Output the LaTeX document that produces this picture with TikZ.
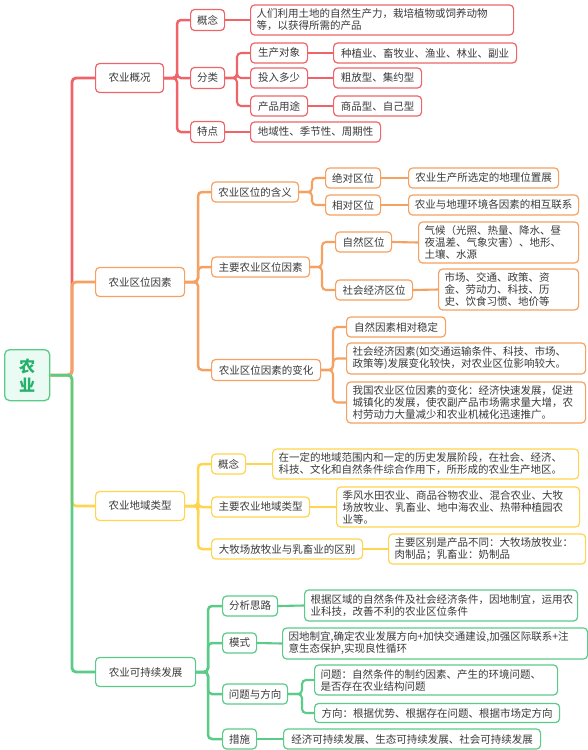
\documentclass[tikz,border=0pt]{standalone}
\usepackage{fontspec}
\setmainfont{Noto Sans CJK SC}
\usetikzlibrary{calc}
\definecolor{cr}{HTML}{EE6469}
\definecolor{co}{HTML}{F5A162}
\definecolor{cy}{HTML}{FFD44E}
\definecolor{cg}{HTML}{5BCB8A}
\definecolor{rootfill}{HTML}{E9FBF3}
\definecolor{roottext}{HTML}{25B06B}
\definecolor{txt}{HTML}{3A3A3A}
\newcommand\fs{\fontsize{10.5}{12}\selectfont}
\tikzset{
  bx/.style={draw=#1, fill=white, rounded corners=4pt, line width=1.2pt, inner sep=0pt,
    anchor=west, font=\fs, text=txt},
  ml/.style={align=left},
  lk/.style={draw=#1, line width=2.5pt, rounded corners=4pt},
  lks/.style={draw=#1, line width=2.1pt, rounded corners=4pt},
}
\begin{document}
\begin{tikzpicture}[x=1pt,y=-1pt]
\useasboundingbox (0,0) rectangle (588,750);
% vertical guide coordinates
\coordinate (t) at (72,0);
\coordinate (vA) at (177,0);
\coordinate (vA2) at (237,0);
\coordinate (vB) at (198,0);
\coordinate (vB1) at (312,0);
\coordinate (vB2) at (322,0);
\coordinate (vB3) at (333,0);
\coordinate (vC) at (198,0);
\coordinate (vD) at (208,0);
\coordinate (vD3) at (302,0);

% root
\node[draw=cg, fill=rootfill, rounded corners=5pt, line width=1.3pt, minimum width=45, minimum height=51,
  anchor=north west, font=\fontsize{16}{19}\selectfont\bfseries, text=roottext, align=center, inner sep=0pt]
  (root) at (4,349) {农\\业};

% level 1
\node[bx=cr, minimum width=68, minimum height=29] (A) at (95,78) {农业概况};
\node[bx=co, minimum width=89, minimum height=29] (B) at (95,282) {农业区位因素};
\node[bx=cy, minimum width=89, minimum height=29] (C) at (95,506) {农业地域类型};
\node[bx=cg, minimum width=100, minimum height=29] (D) at (95,672) {农业可持续发展};

% ---- A (red)
\node[bx=cr, minimum width=34, minimum height=21] (A1) at (190,20) {概念};
\node[bx=cr, minimum width=34, minimum height=21] (A2) at (190,78) {分类};
\node[bx=cr, minimum width=34, minimum height=21] (A3) at (190,132) {特点};
\node[bx=cr, ml, minimum width=263, minimum height=30, text width=251] (A1a) at (250,20)
  {人们利用土地的自然生产力，栽培植物或饲养动物\\等，以获得所需的产品};
\node[bx=cr, minimum width=57, minimum height=20] (A21) at (250,53) {生产对象};
\node[bx=cr, minimum width=57, minimum height=20] (A22) at (250,78) {投入多少};
\node[bx=cr, minimum width=57, minimum height=20] (A23) at (250,106) {产品用途};
\node[bx=cr, minimum width=183, minimum height=20] (A21a) at (333,53) {种植业、畜牧业、渔业、林业、副业};
\node[bx=cr, minimum width=88, minimum height=20] (A22a) at (333,78) {粗放型、集约型};
\node[bx=cr, minimum width=88, minimum height=20] (A23a) at (333,106) {商品型、自己型};
\node[bx=cr, minimum width=130, minimum height=20] (A3a) at (250,132) {地域性、季节性、周期性};

% ---- B (orange)
\node[bx=co, minimum width=87, minimum height=20] (B1) at (211,192) {农业区位的含义};
\node[bx=co, minimum width=98, minimum height=20] (B2) at (211,267) {主要农业区位因素};
\node[bx=co, minimum width=109, minimum height=21] (B3) at (211,370) {农业区位因素的变化};
\node[bx=co, minimum width=55, minimum height=20] (B11) at (325,178) {绝对区位};
\node[bx=co, minimum width=55, minimum height=20] (B12) at (325,205) {相对区位};
\node[bx=co, minimum width=150, minimum height=20] (B11a) at (408,178) {农业生产所选定的地理位置展};
\node[bx=co, minimum width=170, minimum height=20] (B12a) at (408,205) {农业与地理环境各因素的相互联系};
\node[bx=co, minimum width=56, minimum height=20] (B21) at (335,242) {自然区位};
\node[bx=co, minimum width=77, minimum height=20] (B22) at (335,290) {社会经济区位};
\node[bx=co, ml, minimum width=160, minimum height=41, text width=148] (B21a) at (418,242.5)
  {气候（光照、热量、降水、昼\\夜温差、气象灾害）、地形、\\土壤、水源};
\node[bx=co, ml, minimum width=140, minimum height=41, text width=128] (B22a) at (438,289.5)
  {市场、交通、政策、资\\金、劳动力、科技、历\\史、饮食习惯、地价等};
\node[bx=co, minimum width=99, minimum height=20] (B31) at (346,327) {自然因素相对稳定};
\node[bx=co, ml, minimum width=239, minimum height=31, text width=227] (B32) at (346,358.5)
  {社会经济因素(如交通运输条件、科技、市场、\\政策等)发展变化较快，对农业区位影响较大。};
\node[bx=co, ml, minimum width=239, minimum height=41, text width=227] (B33) at (346,402.5)
  {我国农业区位因素的变化：经济快速发展，促进\\城镇化的发展，使农副产品市场需求量大增，农\\村劳动力大量减少和农业机械化迅速推广。};

% ---- C (yellow)
\node[bx=cy, minimum width=34, minimum height=20] (C1) at (211,464) {概念};
\node[bx=cy, minimum width=98, minimum height=20] (C2) at (211,507) {主要农业地域类型};
\node[bx=cy, minimum width=151, minimum height=20] (C3) at (211,549) {大牧场放牧业与乳畜业的区别};
\node[bx=cy, ml, minimum width=306, minimum height=30, text width=294] (C1a) at (272,464)
  {在一定的地域范围内和一定的历史发展阶段，在社会、经济、\\科技、文化和自然条件综合作用下，所形成的农业生产地区。};
\node[bx=cy, ml, minimum width=243, minimum height=40, text width=231] (C2a) at (336,507)
  {季风水田农业、商品谷物农业、混合农业、大牧\\场放牧业、乳畜业、地中海农业、热带种植园农\\业等。};
\node[bx=cy, ml, minimum width=197, minimum height=30, text width=185] (C3a) at (388,549)
  {主要区别是产品不同：大牧场放牧业：\\肉制品；乳畜业：奶制品};

% ---- D (green)
\node[bx=cg, minimum width=55, minimum height=20] (D1) at (222,606) {分析思路};
\node[bx=cg, minimum width=34, minimum height=20] (D2) at (222,643) {模式};
\node[bx=cg, minimum width=65, minimum height=20] (D3) at (222,694) {问题与方向};
\node[bx=cg, minimum width=34, minimum height=20] (D4) at (222,739) {措施};
\node[bx=cg, ml, minimum width=273, minimum height=31, text width=261] (D1a) at (304,605.5)
  {根据区域的自然条件及社会经济条件，因地制宜，运用农\\业科技，改善不利的农业区位条件};
\node[bx=cg, ml, minimum width=305, minimum height=31, text width=293] (D2a) at (282,643.5)
  {因地制宜,确定农业发展方向+加快交通建设,加强区际联系+注\\意生态保护,实现良性循环};
\node[bx=cg, ml, minimum width=243, minimum height=30, text width=231] (D31) at (314,680)
  {问题：自然条件的制约因素、产生的环境问题、\\是否存在农业结构问题};
\node[bx=cg, minimum width=245, minimum height=19] (D32) at (314,713) {方向：根据优势、根据存在问题、根据市场定方向};
\node[bx=cg, minimum width=257, minimum height=20] (D4a) at (283,739) {经济可持续发展、生态可持续发展、社会可持续发展};

% ---- connectors (behind nodes)
\begin{scope}[on background layer/.try]
\end{scope}
% trunk
\draw[lk=cr, line width=2.8pt] (root.east) -- (root.east -| t) |- (A.west);
\draw[lk=co, line width=2.8pt] (root.east) -- (root.east -| t) |- (B.west);
\draw[lk=cy, line width=2.8pt] (root.east) -- (root.east -| t) |- (C.west);
\draw[lk=cg, line width=2.8pt] (root.east) -- (root.east -| t) |- (D.west);
% A
\foreach \c in {A1,A2,A3} \draw[lk=cr] (A.east) -- (A.east -| vA) |- (\c.west);
\foreach \c in {A21,A22,A23} \draw[lks=cr] (A2.east) -- (A2.east -| vA2) |- (\c.west);
\draw[lks=cr] (A1.east) -- (A1a.west);
\draw[lks=cr] (A21.east) -- (A21a.west);
\draw[lks=cr] (A22.east) -- (A22a.west);
\draw[lks=cr] (A23.east) -- (A23a.west);
\draw[lks=cr] (A3.east) -- (A3a.west);
% B
\foreach \c in {B1,B2,B3} \draw[lk=co] (B.east) -- (B.east -| vB) |- (\c.west);
\foreach \c in {B11,B12} \draw[lks=co] (B1.east) -- (B1.east -| vB1) |- (\c.west);
\foreach \c in {B21,B22} \draw[lks=co] (B2.east) -- (B2.east -| vB2) |- (\c.west);
\foreach \c in {B31,B32,B33} \draw[lks=co] (B3.east) -- (B3.east -| vB3) |- (\c.west);
\draw[lks=co] (B11.east) -- (B11a.west);
\draw[lks=co] (B12.east) -- (B12a.west);
\draw[lks=co] (B21.east) -- (B21a.west);
\draw[lks=co] (B22.east) -- (B22a.west);
% C
\foreach \c in {C1,C2,C3} \draw[lk=cy] (C.east) -- (C.east -| vC) |- (\c.west);
\draw[lks=cy] (C1.east) -- (C1a.west);
\draw[lks=cy] (C2.east) -- (C2a.west);
\draw[lks=cy] (C3.east) -- (C3a.west);
% D
\foreach \c in {D1,D2,D3,D4} \draw[lk=cg] (D.east) -- (D.east -| vD) |- (\c.west);
\foreach \c in {D31,D32} \draw[lks=cg] (D3.east) -- (D3.east -| vD3) |- (\c.west);
\draw[lks=cg] (D1.east) -- (D1a.west);
\draw[lks=cg] (D2.east) -- (D2a.west);
\draw[lks=cg] (D4.east) -- (D4a.west);
\end{tikzpicture}
\end{document}
